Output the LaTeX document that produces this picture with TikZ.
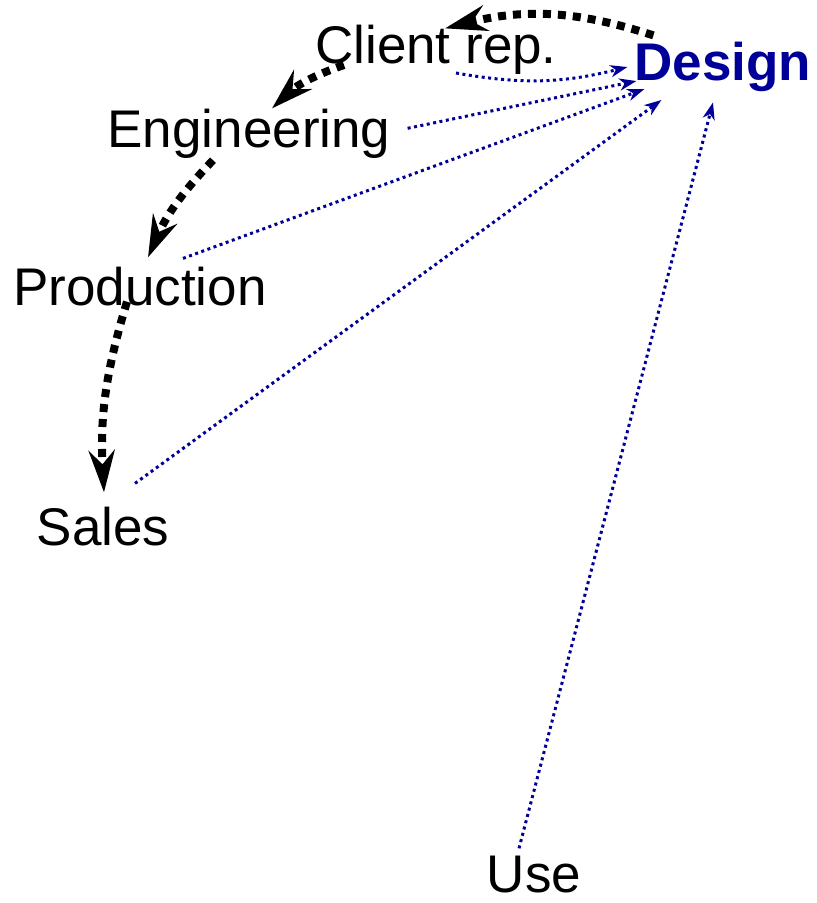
\documentclass[tikz,border=0pt]{standalone}
\usepackage{fontspec}
\setmainfont{Liberation Sans}
\usepackage{tikz}
\usetikzlibrary{calc}
\usetikzlibrary{arrows.meta}
\usepackage{xcolor}
\definecolor{D0}{HTML}{000099}
\tikzset{lbl/.style={inner sep=0pt,anchor=base,font=\fontsize{53}{60}\selectfont}}
\tikzset{flow/.style={line width=8pt,dash pattern=on 8pt off 7pt,-{Stealth[length=42pt,width=26pt,inset=14pt]}}}
\tikzset{feed/.style={color=D0,line width=3pt,dash pattern=on 3pt off 3.5pt,-{Stealth[length=17pt,width=12pt,inset=5pt]}}}

\begin{document}
\begin{tikzpicture}[x=1pt,y=1pt]
\useasboundingbox (0,0) rectangle (817,-903);

\node[lbl] (client) at (436,-63) {Client rep.};
\node[lbl,color=D0,font=\fontsize{53}{60}\selectfont\bfseries] (design) at (723,-80) {Design};
\node[lbl] (eng) at (249,-147) {Engineering};
\node[lbl] (prod) at (140,-305) {Production};
\node[lbl] (sales) at (103,-545) {Sales};
\node[lbl] (use) at (534,-892) {Use};

\draw[flow] ([shift={(19,6)}]design.north west) to[bend right=16] ([shift={(9,-4)}]client.north);
\draw[flow] ([shift={(29,-2)}]client.base west) to[bend right=12] ([shift={(23,0)}]eng.north);
\draw[flow] ([shift={(-36,-2)}]eng.south) to[bend right=10] ([shift={(8,9)}]prod.north);
\draw[flow] ([shift={(-13,4)}]prod.south) to[bend right=10] ([shift={(1,14)}]sales.north);

\draw[feed] ([shift={(20,-10)}]client.base) to[bend right=12] ([shift={(-7,13)}]design.base west);
\draw[feed] ([shift={(17,5)}]eng.east) -- ([shift={(2,-1)}]design.base west);
\draw[feed] ([shift={(43,8)}]prod.north) -- ([shift={(10,-9)}]design.base west);
\draw[feed] ([shift={(32,23)}]sales.north) -- ([shift={(27,-20)}]design.base west);
\draw[feed] ([shift={(-15,7)}]use.north) -- ([shift={(-10,-11)}]design.south);

\end{tikzpicture}
\end{document}
